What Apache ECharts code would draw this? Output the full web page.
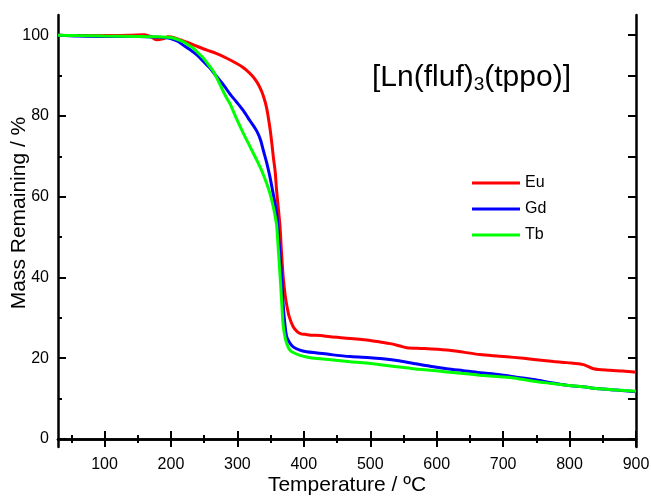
<!DOCTYPE html>
<html>
<head>
<meta charset="utf-8">
<script src="https://cdn.jsdelivr.net/npm/echarts@6/dist/echarts.min.js"></script>
<style>
html,body{margin:0;padding:0;background:#fff;}
#chart{width:651px;height:497px;}
</style>
</head>
<body>
<div id="chart"></div>
<script>
// ---- data ----
const seriesNames = ['Eu', 'Gd', 'Tb'];
const euData = [[30,100],[60,99.9],[100,99.9],[140,100],[160,100.1],[170,99.6],[178,98.9],[188,99.1],[196,99.6],[205,99.4],[215,98.8],[228,98.0],[240,97.2],[254,96.3],[268,95.5],[279,94.7],[290,93.8],[299,93.0],[307,92.2],[314,91.3],[322,90.0],[329,88.5],[334,87.0],[339,85.0],[344,82.0],[349,77.0],[352,73.0],[354,70.0],[357,66.0],[359,61.6],[362,56.5],[364,53.0],[366.5,46.0],[369,40.0],[372,35.5],[375,32.5],[378,30.3],[384,27.8],[390,26.6],[396,26.0],[402,25.9],[410,25.7],[425,25.6],[440,25.3],[470,24.9],[500,24.4],[515,24.0],[530,23.6],[545,23.0],[555,22.6],[580,22.4],[615,22.0],[640,21.5],[665,20.9],[695,20.5],[716,20.2],[746,19.7],[776,19.2],[796,18.9],[821,18.4],[836,17.4],[861,17.0],[880,16.8],[900,16.5]];
const gdData = [[30,100],[60,99.8],[100,99.7],[150,99.7],[180,99.5],[199,99.2],[210,98.5],[218,97.6],[228,96.5],[239,95.1],[249,93.5],[259,91.8],[269,89.7],[279,87.7],[289,85.4],[299,83.4],[309,81.3],[319,78.8],[329,76.3],[335,74.0],[339,71.5],[344,68.5],[349,64.9],[353,61.5],[357,58.0],[360,54.5],[362,50.0],[364.5,45.0],[367,39.0],[369,33.0],[371.5,28.5],[374,25.5],[378,24.0],[384,22.8],[394,22.0],[404,21.6],[420,21.3],[440,20.9],[470,20.4],[500,20.1],[515,19.9],[540,19.4],[565,18.7],[590,18.0],[615,17.4],[640,16.9],[665,16.4],[695,15.9],[716,15.4],[746,14.7],[770,14.0],[796,13.3],[820,12.9],[846,12.4],[870,12.1],[900,11.7]];
const tbData = [[30,100],[60,99.9],[100,99.8],[150,99.7],[180,99.6],[199,99.4],[209,99.0],[218,98.4],[226,97.6],[234,96.7],[241,95.6],[249,94.3],[256,92.8],[264,91.0],[269,89.4],[274,87.7],[279,86.0],[284,84.4],[289,83.0],[299,79.2],[309,75.7],[319,72.4],[329,69.1],[337,66.3],[344,63.3],[349,60.8],[354,57.5],[357,55.0],[359,53.0],[361,48.5],[363,43.5],[365,38.5],[367,33.0],[369,28.0],[372,25.0],[375,23.3],[379,22.0],[384,21.4],[394,20.7],[404,20.3],[420,19.9],[440,19.6],[470,19.1],[500,18.7],[515,18.4],[540,17.9],[565,17.4],[590,17.0],[615,16.6],[640,16.2],[665,15.8],[695,15.4],[716,15.1],[746,14.3],[770,13.8],[796,13.3],[820,12.9],[846,12.4],[870,12.1],[900,11.8]];
const xMajorTicks = [100,200,300,400,500,600,700,800,900];
const xMinorTicks = [50,150,250,350,450,550,650,750,850];
const yMajorTicks = [0,20,40,60,80,100];
const yMinorTicks = [10,30,50,70,90];
const xTitle = 'Temperature / ºC';
const yTitle = 'Mass Remaining / %';
const chartLabel = ['[Ln(fluf)', '3', '(tppo)]'];

// ---- chart ----
const FONT = "'Liberation Sans', Arial, sans-serif";
const colors = ['#FF0000', '#0000FF', '#00FF00'];
const X_MIN = 30, X_MAX = 900, Y_MIN = -2, Y_MAX = 105;
const axisLine = {show: true, lineStyle: {color: '#000', width: 2.5}};

function xAx(pos, ticks, len, labels, line) {
  return {
    type: 'value', position: pos, min: X_MIN, max: X_MAX,
    axisLine: line ? axisLine : {show: false},
    axisTick: {show: true, inside: true, length: len, lineStyle: {color: '#000', width: 2}, customValues: ticks},
    axisLabel: labels ? {show: true, customValues: ticks, color: '#000', fontSize: 16, fontFamily: FONT, margin: 10} : {show: false},
    splitLine: {show: false}
  };
}
function yAx(pos, ticks, len, labels, line) {
  return {
    type: 'value', position: pos, min: Y_MIN, max: Y_MAX,
    axisLine: line ? axisLine : {show: false},
    axisTick: {show: true, inside: true, length: len, lineStyle: {color: '#000', width: 2}, customValues: ticks},
    axisLabel: labels ? {show: true, customValues: ticks, color: '#000', fontSize: 16, fontFamily: FONT, margin: 9} : {show: false},
    splitLine: {show: false}
  };
}

const allData = [euData, gdData, tbData];
const option = {
  animation: false,
  backgroundColor: '#fff',
  grid: {left: 58, right: 15, top: 15, bottom: 50, containLabel: false, outerBoundsMode: 'none'},
  xAxis: [
    xAx('bottom', xMajorTicks, 8, true, true),
    xAx('bottom', xMinorTicks, 4, false, false),
    xAx('top', xMajorTicks, 8, false, true),
    xAx('top', xMinorTicks, 4, false, false)
  ],
  yAxis: [
    yAx('left', yMajorTicks, 8, true, true),
    yAx('left', yMinorTicks, 4, false, false),
    yAx('right', yMajorTicks, 8, false, true),
    yAx('right', yMinorTicks, 8, false, false)
  ],
  legend: {
    data: seriesNames,
    orient: 'vertical',
    left: 472, top: 175, padding: 0,
    icon: 'rect',
    itemWidth: 48, itemHeight: 3, itemGap: 10,
    textStyle: {color: '#000', fontSize: 16, lineHeight: 14, fontFamily: FONT, padding: [0,0,0,0]}
  },
  title: {
    left: 372, top: 62, padding: 0,
    text: '{a|' + chartLabel[0] + '}{b|' + chartLabel[1] + '}{a|' + chartLabel[2] + '}',
    textStyle: {
      fontFamily: FONT, fontWeight: 'normal',
      rich: {
        a: {fontSize: 30, lineHeight: 32, color: '#000', fontFamily: FONT, fontWeight: 'normal'},
        b: {fontSize: 19, lineHeight: 19, color: '#000', fontFamily: FONT, fontWeight: 'normal', verticalAlign: 'bottom'}
      }
    }
  },
  graphic: [
    {type: 'text', x: 347, y: 485.5, style: {text: xTitle, font: '21px ' + FONT, fill: '#000', align: 'center', verticalAlign: 'middle'}},
    {type: 'text', x: 19, y: 213, rotation: Math.PI / 2, style: {text: yTitle, font: '21px ' + FONT, fill: '#000', align: 'center', verticalAlign: 'middle'}}
  ],
  series: seriesNames.map((n, i) => ({
    name: n, type: 'line', xAxisIndex: 0, yAxisIndex: 0,
    data: allData[i], symbol: 'none', smooth: 0.3,
    lineStyle: {color: colors[i], width: 3},
    itemStyle: {color: colors[i]}
  }))
};
const chart = echarts.init(document.getElementById('chart'), null, {renderer: 'canvas'});
chart.setOption(option);
</script>
</body>
</html>
